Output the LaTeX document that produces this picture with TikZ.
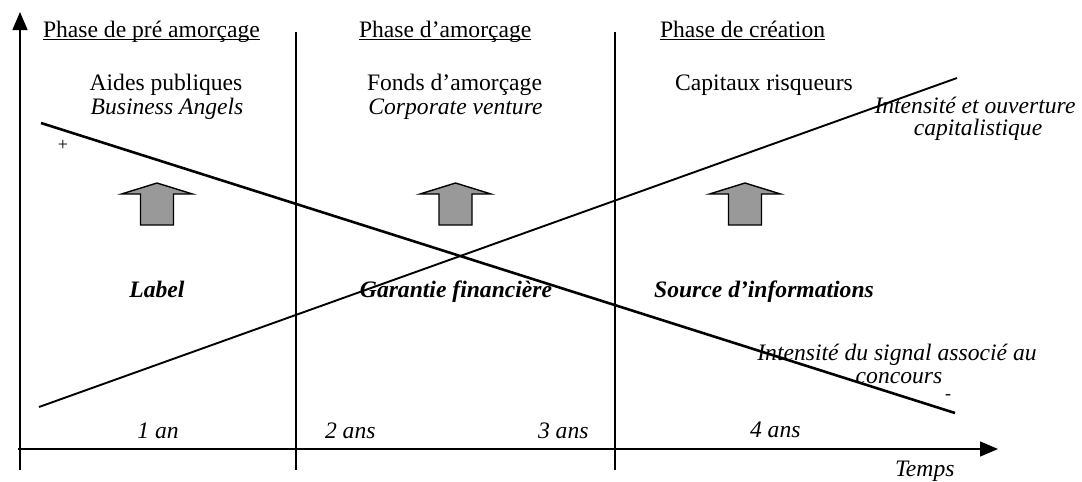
\documentclass[tikz,border=0pt]{standalone}
\usepackage{fontspec}
\setmainfont{Liberation Serif}
\usetikzlibrary{arrows.meta}
\begin{document}
\begin{tikzpicture}[x=0.5pt,y=-0.5pt,
  txt/.style={inner sep=0pt,outer sep=0pt,font=\fontsize{11.8}{14}\selectfont},
  itx/.style={txt,font=\fontsize{11.8}{14}\selectfont\itshape},
  btx/.style={txt,font=\fontsize{11.8}{14}\selectfont\bfseries\itshape},
  smalltx/.style={inner sep=0pt,font=\fontsize{9}{11}\selectfont},
  axis/.style={line width=0.7pt,-{Triangle[length=9pt,width=7.5pt]}},
  divider/.style={line width=0.7pt},
  trend/.style={line width=1.3pt},
  trendb/.style={line width=0.95pt},
  uline/.style={line width=0.45pt},
  blockarrow/.style={draw=black,line width=0.7pt,fill=black!40,line join=miter}
]
\useasboundingbox (0,0) rectangle (1082,482);
% axes
\coordinate (yb) at (20,470);
\coordinate (yt) at (20,12);
\coordinate (xl) at (18,449);
\coordinate (xr) at (998,449);
\draw[axis] (yb) -- (yt);
\draw[axis] (xl) -- (xr);
% dividers
\coordinate (d1t) at (296,32); \coordinate (d1b) at (296,470);
\coordinate (d2t) at (615,32); \coordinate (d2b) at (615,470);
\draw[divider] (d1t) -- (d1b);
\draw[divider] (d2t) -- (d2b);
% trend lines
\coordinate (s1) at (41,123); \coordinate (s2) at (955,413);
\coordinate (c1) at (39,407); \coordinate (c2) at (957,78);
\draw[trend] (s1) -- (s2);
\draw[trendb] (c1) -- (c2);
% phase titles
\node[txt,anchor=base west] (p1) at (43,37) {Phase de pré amorçage};
\node[txt,anchor=base west] (p2) at (359,37) {Phase d’amorçage};
\node[txt,anchor=base west] (p3) at (660,37) {Phase de création};
\foreach \n in {p1,p2,p3}{
  \draw[uline] ([yshift=-1.1pt]\n.base west) -- ([yshift=-1.1pt]\n.base east);
}
% funding sources
\node[txt,anchor=base] (a1) at (166,90) {Aides publiques};
\node[itx,anchor=base] (a2) at (167,114) {Business Angels};
\node[txt,anchor=base] (f1) at (454.5,90) {Fonds d’amorçage};
\node[itx,anchor=base] (f2) at (455.5,114) {Corporate venture};
\node[txt,anchor=base] (k1) at (764,90) {Capitaux risqueurs};
\node[itx,anchor=base] (i1) at (975,113) {Intensité et ouverture};
\node[itx,anchor=base] (i2) at (978,135) {capitalistique};
\node[smalltx] (plus) at (63,145) {+};
% block arrows
\foreach \c in {157,455.5,745}{
  \draw[blockarrow] (\c,183) -- (\c+35.5,194) -- (\c+16.5,194) -- (\c+16.5,225)
    -- (\c-16.5,225) -- (\c-16.5,194) -- (\c-35.5,194) -- cycle;
}
% roles
\node[btx,anchor=base] (r1) at (157,297) {Label};
\node[btx,anchor=base] (r2) at (456,297) {Garantie financière};
\node[btx,anchor=base] (r3) at (764,297) {Source d’informations};
% signal text
\node[itx,anchor=base] (g1) at (897,360) {Intensité du signal associé au};
\node[itx,anchor=base] (g2) at (899,383) {concours};
\node[smalltx] (minus) at (948,397) {-};
% years
\node[itx,anchor=base] (y1) at (158,438) {1 an};
\node[itx,anchor=base west] (y2) at (325,438) {2 ans};
\node[itx,anchor=base west] (y3) at (538,438) {3 ans};
\node[itx,anchor=base west] (y4) at (750,437) {4 ans};
\node[itx,anchor=base west] (tm) at (895,476) {Temps};
\end{tikzpicture}
\end{document}
